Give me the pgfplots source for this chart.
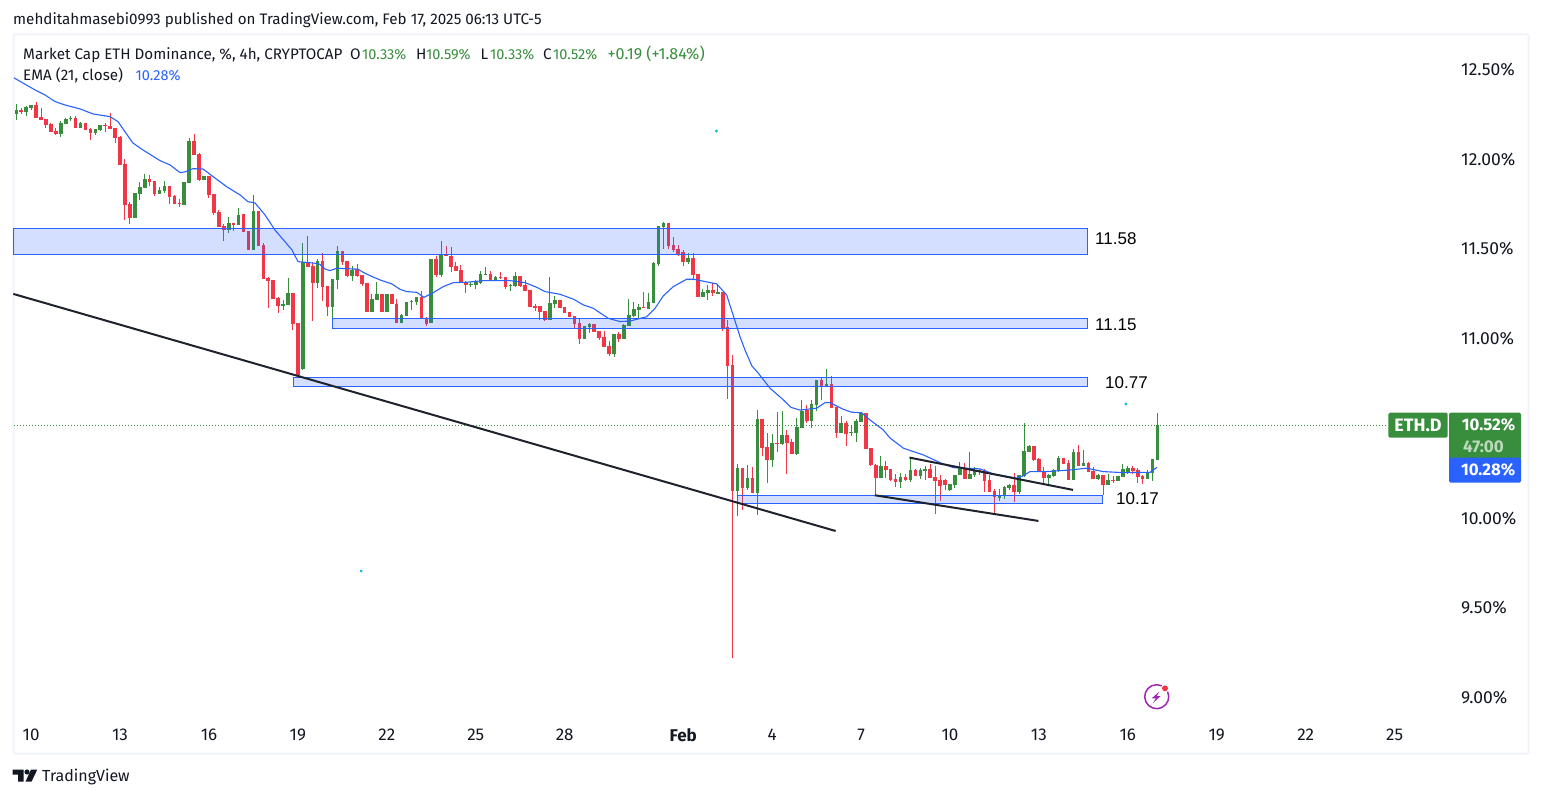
\documentclass[border=0pt]{standalone}
\usepackage{pgfplots}
\usepackage{pgfplotstable}
\usepackage{fontspec}
\pgfplotsset{compat=1.18}
\setmainfont{Fira Sans}
\newfontfamily\annot{Liberation Sans}
\definecolor{tvgreen}{HTML}{388E3C}
\definecolor{tvred}{HTML}{F23645}
\definecolor{tvblue}{HTML}{2962FF}
\definecolor{tvtext}{HTML}{131722}
\definecolor{tvframe}{HTML}{F0F3FA}
\definecolor{tvtrend}{HTML}{1E222D}
\definecolor{tvteal}{HTML}{00BCD4}
\definecolor{tvpurple}{HTML}{9C27B0}
\definecolor{tvpale}{HTML}{BBD9BD}

% k = candle number (4h candles), h = high, top/bot = body edges, l = low
\pgfplotstableread{
k h top bot l
0 12.308 12.275 12.252 12.219
2 12.297 12.291 12.263 12.241
3 12.304 12.301 12.284 12.275
9 12.213 12.202 12.141 12.124
10 12.230 12.224 12.196 12.196
11 12.241 12.230 12.224 12.213
13 12.208 12.202 12.174 12.174
16 12.169 12.169 12.146 12.135
17 12.191 12.191 12.163 12.157
24 11.812 11.812 11.673 11.673
25 11.873 11.845 11.806 11.773
26 11.918 11.890 11.840 11.840
29 11.845 11.829 11.806 11.806
30 11.879 11.851 11.823 11.812
34 11.873 11.873 11.745 11.745
35 12.118 12.102 11.868 11.868
38 11.907 11.907 11.884 11.884
43 11.678 11.645 11.606 11.589
45 11.728 11.689 11.634 11.634
48 11.801 11.712 11.494 11.494
54 11.215 11.193 11.182 11.160
55 11.338 11.254 11.188 11.188
58 11.533 11.427 10.831 10.825
61 11.444 11.433 11.310 11.282
64 11.332 11.332 11.176 11.104
65 11.516 11.488 11.327 11.277
68 11.405 11.383 11.349 11.321
72 11.249 11.221 11.148 11.148
73 11.316 11.249 11.215 11.215
75 11.249 11.249 11.148 11.148
78 11.137 11.132 11.087 11.087
79 11.204 11.204 11.126 11.126
80 11.215 11.210 11.204 11.160
81 11.232 11.232 11.204 11.187
84 11.444 11.444 11.087 11.087
86 11.544 11.466 11.355 11.344
92 11.316 11.305 11.299 11.288
93 11.327 11.321 11.299 11.277
94 11.377 11.360 11.310 11.305
95 11.399 11.360 11.355 11.355
97 11.349 11.344 11.321 11.321
100 11.305 11.299 11.293 11.266
101 11.371 11.349 11.293 11.288
108 11.344 11.199 11.104 11.104
109 11.238 11.215 11.193 11.171
115 11.070 11.070 10.998 10.998
116 11.087 11.082 11.065 11.031
121 11.026 11.026 10.914 10.898
123 11.082 11.076 10.998 10.998
124 11.221 11.132 11.070 11.070
125 11.204 11.165 11.126 11.121
126 11.193 11.176 11.160 11.115
128 11.254 11.204 11.165 11.165
129 11.427 11.422 11.199 11.199
130 11.628 11.628 11.416 11.405
131 11.650 11.645 11.622 11.500
136 11.477 11.449 11.427 11.416
139 11.277 11.260 11.232 11.232
140 11.299 11.271 11.254 11.215
142 11.305 11.260 11.254 11.254
146 10.302 10.279 10.153 10.012
148 10.296 10.224 10.168 10.157
150 10.603 10.552 10.140 10.017
153 10.469 10.419 10.324 10.285
155 10.597 10.463 10.413 10.407
158 10.558 10.508 10.357 10.352
159 10.658 10.597 10.502 10.502
161 10.658 10.636 10.541 10.502
162 10.770 10.770 10.630 10.597
164 10.831 10.748 10.736 10.736
167 10.569 10.530 10.474 10.474
169 10.519 10.480 10.474 10.458
170 10.552 10.541 10.474 10.424
171 10.591 10.586 10.536 10.536
175 10.346 10.290 10.223 10.223
179 10.251 10.229 10.201 10.167
181 10.340 10.268 10.212 10.201
183 10.279 10.268 10.234 10.218
184 10.290 10.273 10.262 10.212
189 10.190 10.190 10.156 10.151
190 10.240 10.240 10.184 10.167
191 10.312 10.279 10.240 10.240
193 10.368 10.246 10.218 10.218
194 10.285 10.268 10.240 10.229
199 10.162 10.123 10.117 10.095
200 10.179 10.173 10.123 10.106
201 10.190 10.184 10.167 10.156
203 10.240 10.240 10.145 10.134
204 10.530 10.374 10.234 10.229
205 10.407 10.402 10.368 10.368
209 10.246 10.240 10.223 10.184
210 10.273 10.268 10.234 10.229
211 10.346 10.335 10.262 10.257
214 10.385 10.368 10.212 10.212
216 10.379 10.307 10.290 10.290
219 10.246 10.240 10.218 10.212
221 10.246 10.212 10.184 10.184
223 10.234 10.234 10.207 10.207
224 10.301 10.273 10.229 10.229
225 10.290 10.279 10.251 10.246
229 10.268 10.251 10.218 10.218
230 10.329 10.329 10.251 10.207
231 10.586 10.519 10.324 10.324
}\upcandles

\pgfplotstableread{
k h top bot l
1 12.288 12.276 12.263 12.252
4 12.319 12.304 12.230 12.230
5 12.286 12.236 12.219 12.219
6 12.224 12.224 12.191 12.174
7 12.202 12.198 12.152 12.152
8 12.174 12.157 12.141 12.135
12 12.241 12.230 12.174 12.174
14 12.202 12.202 12.163 12.163
15 12.174 12.169 12.146 12.107
18 12.202 12.191 12.187 12.152
19 12.258 12.185 12.169 12.169
20 12.174 12.174 12.118 12.091
21 12.130 12.124 11.968 11.968
22 12.001 11.974 11.745 11.661
23 11.762 11.751 11.673 11.639
27 11.912 11.890 11.873 11.851
28 11.879 11.879 11.806 11.795
31 11.851 11.851 11.790 11.751
32 11.801 11.795 11.751 11.751
33 11.778 11.756 11.751 11.734
36 12.141 12.102 12.024 12.024
37 12.035 12.029 11.884 11.879
39 11.907 11.907 11.801 11.784
40 11.806 11.806 11.700 11.689
41 11.717 11.706 11.622 11.622
42 11.639 11.628 11.606 11.544
44 11.645 11.645 11.634 11.600
46 11.695 11.695 11.594 11.594
47 11.600 11.600 11.494 11.494
49 11.712 11.712 11.516 11.516
50 11.533 11.522 11.333 11.333
51 11.344 11.338 11.321 11.171
52 11.327 11.327 11.221 11.221
53 11.232 11.227 11.182 11.143
56 11.254 11.254 11.082 11.048
57 11.087 11.087 10.797 10.792
59 11.572 11.422 11.399 11.399
60 11.427 11.405 11.310 11.098
62 11.477 11.433 11.288 11.210
63 11.293 11.293 11.176 11.126
66 11.488 11.488 11.427 11.410
67 11.433 11.433 11.349 11.344
69 11.416 11.388 11.349 11.344
70 11.355 11.355 11.305 11.293
71 11.310 11.310 11.148 11.148
74 11.249 11.249 11.148 11.148
76 11.249 11.249 11.193 11.193
77 11.221 11.193 11.087 11.087
82 11.266 11.232 11.109 11.109
83 11.121 11.115 11.082 11.070
85 11.461 11.444 11.355 11.344
87 11.516 11.466 11.461 11.461
88 11.511 11.461 11.399 11.371
89 11.427 11.405 11.377 11.377
90 11.410 11.383 11.310 11.310
91 11.321 11.316 11.299 11.254
96 11.377 11.360 11.327 11.321
98 11.371 11.344 11.338 11.332
99 11.344 11.344 11.288 11.277
102 11.349 11.349 11.293 11.288
103 11.327 11.299 11.266 11.266
104 11.271 11.271 11.176 11.176
105 11.193 11.182 11.176 11.154
106 11.182 11.182 11.148 11.104
107 11.154 11.154 11.104 11.098
110 11.215 11.215 11.171 11.171
111 11.176 11.176 11.143 11.143
112 11.148 11.148 11.121 11.121
113 11.126 11.126 11.082 11.059
114 11.109 11.087 10.998 10.970
117 11.082 11.082 11.037 11.037
118 11.043 11.043 11.004 10.992
119 11.043 11.009 10.953 10.953
120 10.987 10.959 10.914 10.903
122 11.037 11.026 10.998 10.981
127 11.260 11.176 11.171 11.171
132 11.645 11.645 11.516 11.500
133 11.567 11.522 11.494 11.483
134 11.522 11.500 11.472 11.461
135 11.494 11.483 11.427 11.405
137 11.477 11.449 11.355 11.327
138 11.360 11.360 11.232 11.232
141 11.310 11.271 11.254 11.238
143 11.260 11.260 11.054 11.043
144 11.104 11.065 10.850 10.664
145 10.909 10.853 10.153 9.220
147 10.279 10.279 10.168 10.045
149 10.285 10.224 10.140 10.140
151 10.552 10.552 10.391 10.346
152 10.474 10.396 10.324 10.196
154 10.591 10.419 10.413 10.368
156 10.491 10.463 10.419 10.246
157 10.441 10.424 10.357 10.357
160 10.630 10.603 10.541 10.530
163 10.781 10.770 10.736 10.658
165 10.792 10.748 10.614 10.614
166 10.619 10.619 10.474 10.446
168 10.541 10.530 10.469 10.402
172 10.586 10.586 10.385 10.385
173 10.391 10.391 10.296 10.290
174 10.301 10.296 10.223 10.123
176 10.318 10.290 10.268 10.223
177 10.273 10.273 10.212 10.207
178 10.246 10.218 10.201 10.173
180 10.246 10.229 10.212 10.207
182 10.273 10.268 10.234 10.234
185 10.301 10.273 10.223 10.223
186 10.290 10.229 10.207 10.023
187 10.240 10.212 10.179 10.095
188 10.218 10.212 10.184 10.156
192 10.307 10.279 10.218 10.218
195 10.273 10.268 10.262 10.240
196 10.273 10.262 10.207 10.145
197 10.240 10.212 10.145 10.145
198 10.162 10.151 10.117 10.023
202 10.251 10.184 10.145 10.089
206 10.402 10.402 10.324 10.318
207 10.335 10.329 10.257 10.257
208 10.285 10.257 10.223 10.190
212 10.335 10.335 10.301 10.301
213 10.324 10.307 10.212 10.212
215 10.407 10.368 10.290 10.290
217 10.312 10.307 10.257 10.257
218 10.285 10.262 10.218 10.218
220 10.240 10.240 10.184 10.129
222 10.234 10.212 10.207 10.195
226 10.290 10.279 10.262 10.246
227 10.279 10.268 10.229 10.195
228 10.240 10.234 10.218 10.190
}\downcandles

\pgfplotstableread{
k p
-0.47 12.453
3.79 12.386
5.81 12.358
7.83 12.321
9.86 12.302
12.89 12.280
15.53 12.252
18.97 12.237
20.59 12.209
22.0 12.153
23.6 12.090
25.65 12.051
29.09 11.992
31.11 11.968
33.14 11.925
34.15 11.929
35.77 11.947
37.8 11.945
39.82 11.903
42.66 11.845
45.28 11.801
46.9 11.763
48.32 11.756
50.35 11.689
52.37 11.605
54.39 11.540
55.81 11.494
57.02 11.429
60.46 11.420
61.48 11.414
62.49 11.388
63.5 11.379
64.86 11.392
69.17 11.387
70.18 11.370
71.6 11.351
73.62 11.327
75.99 11.305
77.67 11.275
79.03 11.262
81.05 11.258
82.53 11.230
84.41 11.256
86.44 11.290
88.46 11.312
91.17 11.314
94.53 11.323
99.94 11.323
102.98 11.312
105.34 11.286
107.02 11.262
110.06 11.247
112.75 11.220
114.78 11.188
116.8 11.169
119.84 11.113
122.2 11.095
124.23 11.098
127.6 11.122
129.3 11.169
130.97 11.238
133.0 11.290
135.71 11.331
137.04 11.331
141.78 11.305
143.8 11.243
146.5 11.011
147.5 10.937
148.9 10.848
150.2 10.807
152.6 10.723
155.3 10.658
156.8 10.617
158.6 10.602
162.0 10.612
163.7 10.643
164.7 10.643
167.4 10.606
169.1 10.590
171.1 10.587
172.8 10.547
175.5 10.491
176.9 10.445
179.6 10.389
183.6 10.352
187.3 10.305
189.7 10.281
195.1 10.274
197.8 10.246
202.5 10.222
203.8 10.235
205.2 10.259
208.6 10.259
213.3 10.268
216.7 10.278
220.0 10.259
224.1 10.253
229.5 10.255
230.9 10.283
}\emaline

\begin{document}
\begin{tikzpicture}
\path[use as bounding box, fill=white] (0pt,0pt) rectangle (1541pt,798pt);
\begin{scope}[shift={(0pt,798pt)},x=1pt,y=-1pt]
\draw[tvframe,line width=2pt,rounded corners=2pt] (13.5,34.3) rectangle (1528.5,753.7);
\end{scope}
\begin{axis}[
  at={(0pt,0pt)},anchor=south west,scale only axis,width=1541pt,height=798pt,
  xmin=-3.2996,xmax=308.64,ymin=8.440,ymax=12.887,
  clip=false,
  axis line style={draw=none},
  tick style={draw=none},major tick length=0pt,
  xtick={3,21,39,57,75,93,111,135,153,171,189,207,225,243,261,279},
  xticklabels={10,13,16,19,22,25,28,{\bfseries Feb},4,7,10,13,16,19,22,25},
  xticklabel style={anchor=center,yshift=63pt,font=\fontsize{17}{19}\selectfont,text=tvtext},
  ytick={9,9.5,10,11,11.5,12,12.5},
  yticklabels={9.00\%,9.50\%,10.00\%,11.00\%,11.50\%,12.00\%,12.50\%},
  yticklabel pos=right,
  yticklabel style={anchor=west,inner sep=0pt,xshift=-80pt,font=\fontsize{17.5}{19}\selectfont,text=tvtext},
]
% wicks and bodies, up candles
\addplot[draw=none,mark=none,forget plot,error bars/.cd,y dir=both,y explicit,error mark=none,
  error bar style={draw=tvgreen,line width=1pt}]
  table[x=k,y expr=(\thisrow{h}+\thisrow{l})/2,y error expr=(\thisrow{h}-\thisrow{l})/2]{\upcandles};
\addplot[draw=none,mark=none,forget plot,error bars/.cd,y dir=both,y explicit,error mark=none,
  error bar style={draw=tvgreen,line width=3.6pt}]
  table[x=k,y expr=(\thisrow{top}+\thisrow{bot})/2,y error expr=(\thisrow{top}-\thisrow{bot})/2]{\upcandles};
% wicks and bodies, down candles
\addplot[draw=none,mark=none,forget plot,error bars/.cd,y dir=both,y explicit,error mark=none,
  error bar style={draw=tvred,line width=1pt}]
  table[x=k,y expr=(\thisrow{h}+\thisrow{l})/2,y error expr=(\thisrow{h}-\thisrow{l})/2]{\downcandles};
\addplot[draw=none,mark=none,forget plot,error bars/.cd,y dir=both,y explicit,error mark=none,
  error bar style={draw=tvred,line width=3.6pt}]
  table[x=k,y expr=(\thisrow{top}+\thisrow{bot})/2,y error expr=(\thisrow{top}-\thisrow{bot})/2]{\downcandles};
% EMA 21
\addplot[tvblue,line width=1.1pt,mark=none,line join=round] table[x=k,y=p]{\emaline};
% last price line
\addplot[tvgreen,line width=1pt,dash pattern=on 1pt off 2pt,mark=none] coordinates {(-0.4,10.517) (277.7,10.517)};
% zones
\addplot[draw=tvblue,line width=1pt,fill=tvblue,fill opacity=0.2,draw opacity=1,mark=none]
  coordinates {(-0.6,11.470) (-0.6,11.615) (216.85,11.615) (216.85,11.470) (-0.6,11.470)};
\addplot[draw=tvblue,line width=1pt,fill=tvblue,fill opacity=0.2,draw opacity=1,mark=none]
  coordinates {(63.97,11.058) (63.97,11.113) (216.85,11.113) (216.85,11.058) (63.97,11.058)};
\addplot[draw=tvblue,line width=1pt,fill=tvblue,fill opacity=0.2,draw opacity=1,mark=none]
  coordinates {(56.07,10.734) (56.07,10.785) (216.85,10.785) (216.85,10.734) (56.07,10.734)};
\addplot[draw=tvblue,line width=1pt,fill=tvblue,fill opacity=0.2,draw opacity=1,mark=none]
  coordinates {(145.9,10.082) (145.9,10.127) (219.85,10.127) (219.85,10.082) (145.9,10.082)};
% trend lines
\addplot[tvtrend,line width=2pt,mark=none] coordinates {(-0.6,11.249) (165.85,9.928)};
\addplot[tvtrend,line width=2pt,mark=none] coordinates {(180.8,10.337) (213.9,10.157)};
\addplot[tvtrend,line width=2pt,mark=none] coordinates {(173.8,10.127) (206.9,9.984)};
% small marks
\addplot[only marks,mark=*,mark size=1.2pt,tvteal,mark options={draw=none,fill=tvteal}]
  coordinates {(141.7,12.157) (69.8,9.705) (224.6,10.636)};
\end{axis}
\begin{scope}[shift={(0pt,798pt)},x=1pt,y=-1pt]
\tikzset{t/.style={anchor=base west,inner sep=0pt,text=tvtext,font=\fontsize{15.2}{17}\selectfont},
 g/.style={t,text=tvgreen,font=\fontsize{14.5}{17}\selectfont},
 lab/.style={anchor=base west,inner sep=0pt,text=black,font=\annot\fontsize{17}{19}\selectfont}}
\node[t] at (13,24.5) {mehditahmasebi0993 published on TradingView.com, Feb 17, 2025 06:13 UTC-5};
\node[t] at (23,59.5) {Market Cap ETH Dominance, \%, 4h, CRYPTOCAP};
\node[t] at (350,59.5) {O}; \node[g] at (362,59.5) {10.33\%};
\node[t] at (416,59.5) {H}; \node[g] at (426,59.5) {10.59\%};
\node[t] at (480.5,59.5) {L}; \node[g] at (490,59.5) {10.33\%};
\node[t] at (543,59.5) {C}; \node[g] at (553,59.5) {10.52\%};
\node[g,font=\fontsize{16.1}{17}\selectfont] at (607.5,59.5) {+0.19 (+1.84\%)};
\node[t] at (23,80.5) {EMA (21, close)};
\node[t,text=tvblue,font=\fontsize{14.5}{17}\selectfont] at (135.5,80.5) {10.28\%};
% zone labels
\node[lab] at (1095,245) {11.58};
\node[lab] at (1095,331) {11.15};
\node[lab] at (1105,389) {10.77};
\node[lab] at (1116,505) {10.17};
% price labels
\fill[tvgreen,rounded corners=1.5pt] (1388.3,412.7) rectangle (1447.7,437.7);
\fill[tvgreen,rounded corners=1.5pt] (1449,412.7) rectangle (1521,460);
\fill[tvblue,rounded corners=1.5pt] (1449,457.7) rectangle (1521,482.7);
\node[anchor=center,inner sep=0pt,text=white,font=\bfseries\fontsize{18}{20}\selectfont] at (1418,425.3) {ETH.D};
\node[anchor=base east,inner sep=0pt,text=white,font=\bfseries\fontsize{16.8}{18}\selectfont] at (1515.5,430.5) {10.52\%};
\node[anchor=base east,inner sep=0pt,text=tvpale,font=\bfseries\fontsize{17}{18}\selectfont] at (1504,452.5) {47:00};
\node[anchor=base east,inner sep=0pt,text=white,font=\bfseries\fontsize{16.8}{18}\selectfont] at (1515.5,476) {10.28\%};
% TradingView logo and name
\fill[tvtext] (12.7,769.5) -- (23.5,769.5) -- (23.5,781.7) -- (18,781.7) -- (18,774.5) -- (12.7,774.5) -- cycle;
\fill[tvtext] (27,772) circle[radius=2.6];
\fill[tvtext] (37.3,769.5) -- (31,769.5) -- (25.5,781.7) -- (31.5,781.7) -- cycle;
\node[t,font=\fontsize{16}{18}\selectfont] at (42,781.5) {TradingView};
% bolt icon
\draw[tvpurple,line width=1.5pt] (1167.6,691.6) arc[start angle=-25,end angle=295,radius=12];
\fill[tvpurple] (1159.3,691.7) -- (1151.7,698.3) -- (1156,698.3) -- (1152.7,703.3) -- (1160.7,696) -- (1156.7,696) -- cycle;
\fill[tvred] (1165,688.3) circle[radius=3];
\end{scope}
\end{tikzpicture}
\end{document}
